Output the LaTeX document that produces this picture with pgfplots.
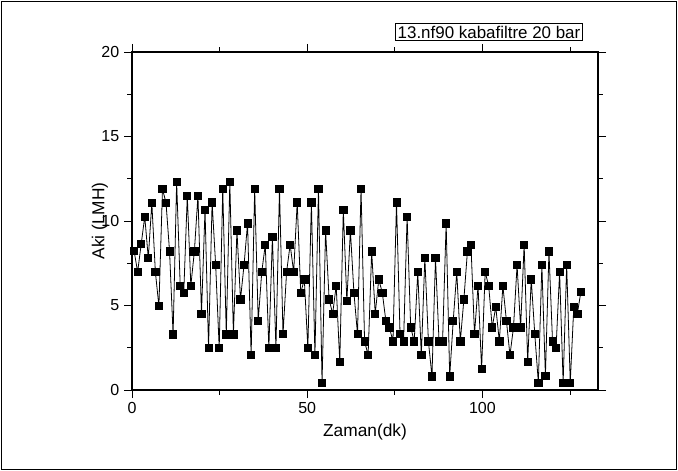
\documentclass[border=0pt]{standalone}
\usepackage{pgfplots}
\pgfplotsset{compat=1.18}
\usepackage{pgfplotstable}
\usepackage{fontspec}
\setmainfont{Liberation Sans}
\pgfplotstableread{
x y
0.60 8.23
1.61 6.98
2.62 8.63
3.64 10.26
4.65 7.80
5.66 11.07
6.67 6.98
7.68 4.96
8.70 11.90
9.71 11.07
10.72 8.20
11.73 3.29
12.74 12.30
13.76 6.17
14.77 5.75
15.78 11.49
16.79 6.17
17.80 8.20
18.82 11.49
19.83 4.52
20.84 10.67
21.85 2.48
22.86 11.10
23.88 7.38
24.89 2.48
25.90 11.90
26.91 3.29
27.92 12.30
28.94 3.29
29.95 9.44
30.96 5.36
31.97 7.38
32.98 9.86
34.00 2.06
35.01 11.90
36.02 4.10
37.03 6.98
38.04 8.60
39.06 2.48
40.07 9.05
41.08 2.48
42.09 11.90
43.10 3.30
44.12 6.98
45.13 8.60
46.14 6.98
47.15 11.10
48.16 5.75
49.18 6.55
50.19 2.48
51.20 11.10
52.21 2.06
53.22 11.90
54.24 0.44
55.25 9.44
56.26 5.36
57.27 4.52
58.28 6.17
59.30 1.65
60.31 10.67
61.32 5.26
62.33 9.44
63.34 5.75
64.36 3.30
65.37 11.90
66.38 2.88
67.39 2.06
68.40 8.20
69.42 4.52
70.43 6.55
71.44 5.75
72.45 4.10
73.46 3.70
74.48 2.88
75.49 11.10
76.50 3.30
77.51 2.88
78.52 10.26
79.54 3.70
80.55 2.88
81.56 6.98
82.57 2.06
83.58 7.80
84.60 2.88
85.61 0.80
86.62 7.80
87.63 2.88
88.64 2.88
89.66 9.86
90.67 0.80
91.68 4.10
92.69 6.98
93.70 2.88
94.72 5.36
95.73 8.20
96.74 8.60
97.75 3.30
98.76 6.17
99.78 1.23
100.79 6.98
101.80 6.17
102.81 3.70
103.82 4.92
104.84 2.88
105.85 6.17
106.86 4.10
107.87 2.06
108.88 3.70
109.90 7.38
110.91 3.70
111.92 8.60
112.93 1.65
113.94 6.55
114.96 3.30
115.97 0.44
116.98 7.38
117.99 0.83
119.00 8.20
120.02 2.88
121.03 2.48
122.04 6.98
123.05 0.44
124.06 7.38
125.08 0.44
126.09 4.92
127.10 4.52
128.11 5.80
}\datatable
\begin{document}
\begin{tikzpicture}
\useasboundingbox (0,0) rectangle (508.5pt,353.25pt);
\draw[line width=1.2pt] (1pt,1pt) rectangle (507.5pt,352.25pt);
\begin{axis}[
  scale only axis, width=349.5pt, height=253.5pt,
  at={(99pt,60.75pt)}, anchor=south west,
  xmin=0, xmax=133, ymin=0, ymax=20,
  xtick={0,50,100}, minor xtick={25,75,125},
  ytick={0,5,10,15,20}, minor ytick={2.5,7.5,12.5,17.5},
  tick align=outside,
  major tick length=6pt, minor tick length=3.5pt,
  tick style={black, line width=0.6pt},
  axis line style={line width=0.8pt},
  /pgf/number format/assume math mode=true,
  ticklabel style={font=\fontsize{12}{14}\selectfont},
  xlabel={Zaman(dk)}, ylabel={Aki (LMH)},
  label style={font=\fontsize{13}{15}\selectfont},
  xlabel style={at={(axis description cs:0.5,-0.124)}, anchor=center},
  ylabel style={at={(axis description cs:-0.0687,0.5)}, anchor=center},
  clip=false,
]
\addplot[black, line width=0.6pt, mark=square*, mark size=2.7pt,
  mark options={fill=black, draw=black}] table[x=x, y=y] {\datatable};
\end{axis}
\node[draw, line width=0.6pt, inner sep=1.5pt, font=\fontsize{12.7}{14}\selectfont]
  at (366.75pt,329.25pt) {13.nf90 kabafiltre 20 bar};
\end{tikzpicture}
\end{document}
